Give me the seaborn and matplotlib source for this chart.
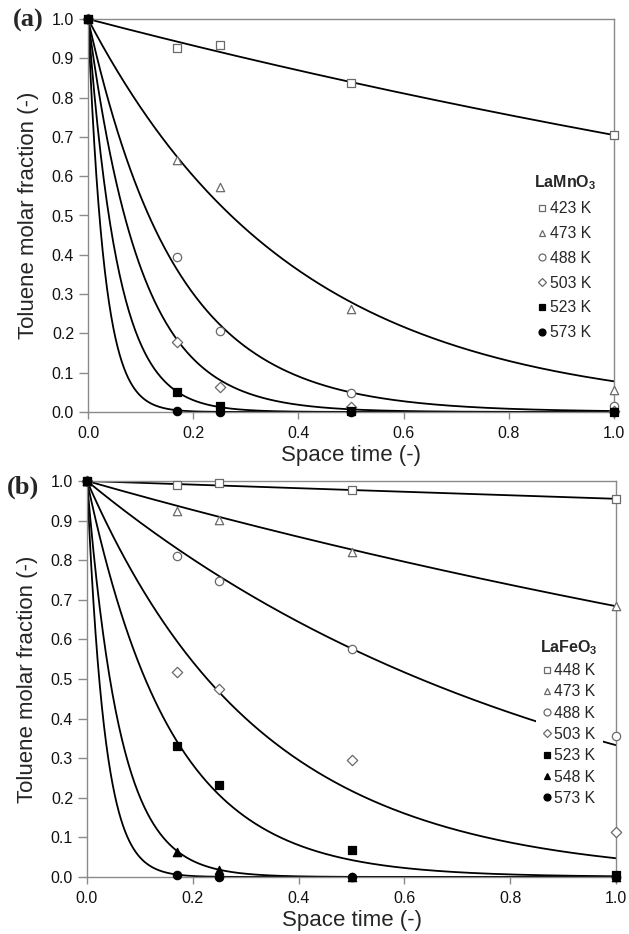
import numpy as np
import pandas as pd
import matplotlib
matplotlib.use("Agg")
import matplotlib.pyplot as plt
import seaborn as sns
from matplotlib.lines import Line2D

# ---------------- data ----------------
space_time = [0.0, 0.17, 0.25, 0.5, 1.0]

# Panel (a) LaMnO3
temps_a = ["423 K", "473 K", "488 K", "503 K", "523 K", "573 K"]
a_423 = [1.0, 0.925, 0.935, 0.837, 0.705]
a_473 = [1.0, 0.642, 0.573, 0.262, 0.055]
a_488 = [1.0, 0.395, 0.205, 0.048, 0.015]
a_503 = [1.0, 0.178, 0.063, 0.012, 0.003]
a_523 = [1.0, 0.050, 0.015, 0.003, 0.000]
a_573 = [1.0, 0.003, 0.000, 0.000, 0.000]
# first-order fit rate constants
fit_k_a = [0.35, 2.55, 6.0, 10.0, 17.5, 32.0]

# Panel (b) LaFeO3
temps_b = ["448 K", "473 K", "488 K", "503 K", "523 K", "548 K", "573 K"]
b_448 = [1.0, 0.990, 0.996, 0.977, 0.955]
b_473 = [1.0, 0.923, 0.902, 0.820, 0.685]
b_488 = [1.0, 0.810, 0.747, 0.577, 0.356]
b_503 = [1.0, 0.518, 0.474, 0.295, 0.113]
b_523 = [1.0, 0.331, 0.233, 0.067, 0.005]
b_548 = [1.0, 0.063, 0.018, 0.000, 0.000]
b_573 = [1.0, 0.004, 0.000, 0.000, 0.000]
fit_k_b = [0.046, 0.38, 1.1, 3.05, 6.3, 16.0, 30.0]

markers_a = ["s", "^", "o", "D", "s", "o"]
filled_a = [False, False, False, False, True, True]
markers_b = ["s", "^", "o", "D", "s", "^", "o"]
filled_b = [False, False, False, False, True, True, True]

# ---------------- style ----------------
sns.set_style("white")
plt.rcParams["font.family"] = ["Liberation Sans", "DejaVu Sans"]
plt.rcParams["mathtext.fontset"] = "custom"
plt.rcParams["mathtext.rm"] = "Liberation Sans"
plt.rcParams["mathtext.bf"] = "Liberation Sans:bold"

AXC = "#8a8a8a"
EDGE = "#6a6a6a"

fig = plt.figure(figsize=(6.29, 9.34), dpi=100)
ax_a = fig.add_axes([88/629, 1-412/934, (614-88)/629, (412-19)/934])
ax_b = fig.add_axes([87/629, 1-877/934, (616-87)/629, (877-481)/934])

def msize(m):
    return 28 if m == "D" else 36

def draw(ax, temps, series, ks, markers, filled, title, leg_anchor, lspace):
    xs = np.linspace(0, 1, 500)
    for T, k in zip(temps, ks):
        df = pd.DataFrame({"x": xs, "y": np.exp(-k * xs)})
        sns.lineplot(data=df, x="x", y="y", ax=ax, color="black", lw=1.3,
                     zorder=2, legend=False)
    handles = []
    for T, ys, m, f in zip(temps, series, markers, filled):
        fc = "black" if f else "white"
        ec = "black" if f else EDGE
        sns.scatterplot(x=space_time, y=ys, ax=ax, marker=m, s=msize(m),
                        facecolor=fc, edgecolor=ec, linewidth=0.9,
                        zorder=3, legend=False, clip_on=False)
        handles.append(Line2D([], [], marker=m, linestyle="none",
                              markerfacecolor=fc, markeredgecolor=ec,
                              markeredgewidth=0.9,
                              markersize=5.0 if m != "D" else 4.3))
    ax.set_xlim(0, 1)
    ax.set_ylim(0, 1)
    ax.set_xticks(np.arange(0, 1.01, 0.2))
    ax.set_yticks(np.arange(0, 1.01, 0.1))
    ax.set_xticklabels([f"{v:.1f}" for v in np.arange(0, 1.01, 0.2)])
    ax.set_yticklabels([f"{v:.1f}" for v in np.arange(0, 1.01, 0.1)])
    ax.tick_params(axis="y", length=6.5, width=1, color=AXC, pad=3.5,
                   labelsize=11.5, labelcolor="#111111", left=True)
    ax.tick_params(axis="x", length=5, width=1, color=AXC, pad=5,
                   labelsize=11.5, labelcolor="#111111", bottom=True)
    for s in ax.spines.values():
        s.set_color(AXC)
        s.set_linewidth(1.0)
        s.set_visible(True)
    ax.set_xlabel("Space time (-)", fontsize=16, labelpad=3)
    ax.set_ylabel("Toluene molar fraction (-)", fontsize=16, labelpad=9)
    leg = ax.legend(handles, temps, title=title, loc="upper right",
                    bbox_to_anchor=leg_anchor, frameon=True, fancybox=False,
                    edgecolor="none", facecolor="white", framealpha=1,
                    fontsize=11.3, handlelength=0.5, handletextpad=0.25,
                    labelspacing=lspace, borderpad=0.3, borderaxespad=0,
                    title_fontproperties={"weight": "bold", "size": 11.5})
    leg.set_zorder(5)

draw(ax_a, temps_a, [a_423, a_473, a_488, a_503, a_523, a_573], fit_k_a,
     markers_a, filled_a, r"LaMnO$_\mathbf{3}$", (0.975, 0.62), 0.62)
draw(ax_b, temps_b, [b_448, b_473, b_488, b_503, b_523, b_548, b_573], fit_k_b,
     markers_b, filled_b, r"LaFeO$_\mathbf{3}$", (0.975, 0.615), 0.4)

fig.text(13/629, 1-20/934, "(a)", family=["Liberation Serif", "DejaVu Serif"],
         weight="bold", fontsize=19, va="center", ha="left")
fig.text(7/629, 1-487/934, "(b)", family=["Liberation Serif", "DejaVu Serif"],
         weight="bold", fontsize=19, va="center", ha="left")

fig.savefig("out.png", dpi=100)
